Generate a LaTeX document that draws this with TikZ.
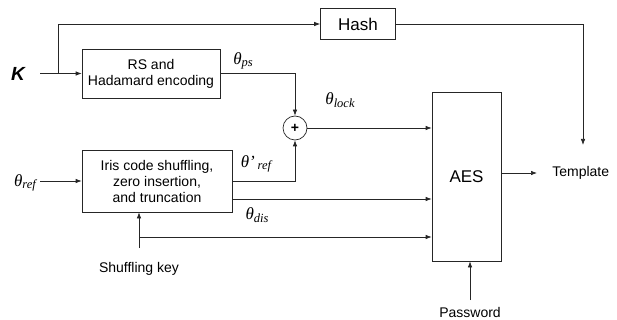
\documentclass[tikz,border=0pt]{standalone}
\usepackage{fontspec}
\setmainfont{Liberation Sans}
\newfontfamily\thfont{Liberation Serif}
\newcommand{\thsub}[2][]{{\thfont\itshape\fontsize{17}{17}\selectfont θ#1}\raisebox{-0.45ex}{\thfont\itshape\fontsize{12.5}{12.5}\selectfont #2}}
\usetikzlibrary{arrows.meta}
\begin{document}
\begin{tikzpicture}[x=1pt,y=-1pt, line width=0.7pt, draw=black!85,
  box/.style={draw=black!85, inner sep=0pt, align=center, font=\fontsize{14}{16}\selectfont},
  arr/.style={draw=black!85, -{Latex[length=6pt,width=4.5pt]}},
  lbl/.style={inner sep=0pt, font=\fontsize{14}{16}\selectfont},
  th/.style={inner sep=0pt}]
\useasboundingbox (0,0) rectangle (617,320);
% nodes
\node[inner sep=0pt, font=\fontsize{19}{20}\selectfont\bfseries\itshape] (K) at (18,74) {K};
\node[box, minimum width=75, minimum height=31, font=\fontsize{17}{19}\selectfont] (hash) at (358,24) {Hash};
\node[box, minimum width=138, minimum height=49] (rs) at (151,73.5) {RS and\\Hadamard encoding};
\node[box, minimum width=150, minimum height=62] (iris) at (157,181) {Iris code shuffling,\\zero insertion,\\ and truncation};
\node[draw=black!85, circle, minimum size=24, inner sep=0pt, font=\bfseries\fontsize{14}{14}\selectfont] (xor) at (295,128) {+};
\node[box, minimum width=69, minimum height=169, font=\fontsize{17}{19}\selectfont] (aes) at (466.5,176.5) {AES};
\node[lbl, anchor=west] (tmpl) at (552,173) {Template};
\node[lbl] (sk) at (139,269) {Shuffling key};
\node[lbl] (pw) at (470,312) {Password};
% theta labels
\node[th] (tref) at (25,183) {\thsub{ref}};
\node[th] (tps) at (243,61) {\thsub{ps}};
\node[th] (tlock) at (340,100) {\thsub{lock}};
\node[th] (tpref) at (256,164) {\thsub[’\,]{ref}};
\node[th] (tdis) at (257,215) {\thsub{dis}};
% coordinates
\coordinate (kin) at (40,73.5);
\coordinate (kb) at (58,73.5);
\coordinate (tdown) at (583,145);
\coordinate (refin) at (40,181);
\coordinate (dis) at (232,199);
\coordinate (skb) at (139,248);
\coordinate (skj) at (139,237);
\coordinate (pwb) at (470,300);
\coordinate (tend) at (537,173);
% connectors
\draw[arr] (kin) -- (rs.west);
\draw[arr] (kb) |- (hash.west);
\draw[arr] (hash.east) -| (tdown);
\draw[arr] (rs.east) -| (xor.north);
\draw[arr] (iris.east) -| (xor.south);
\draw[arr] (xor.east) -- (xor.east -| aes.west);
\draw[arr] (refin) -- (iris.west);
\draw[arr] (dis) -- (dis -| aes.west);
\draw[arr] (skb) -- (skb |- iris.south);
\draw[arr] (skj) -- (skj -| aes.west);
\draw[arr] (tend -| aes.east) -- (tend);
\draw[arr] (pwb) -- (pwb |- aes.south);
\end{tikzpicture}
\end{document}
